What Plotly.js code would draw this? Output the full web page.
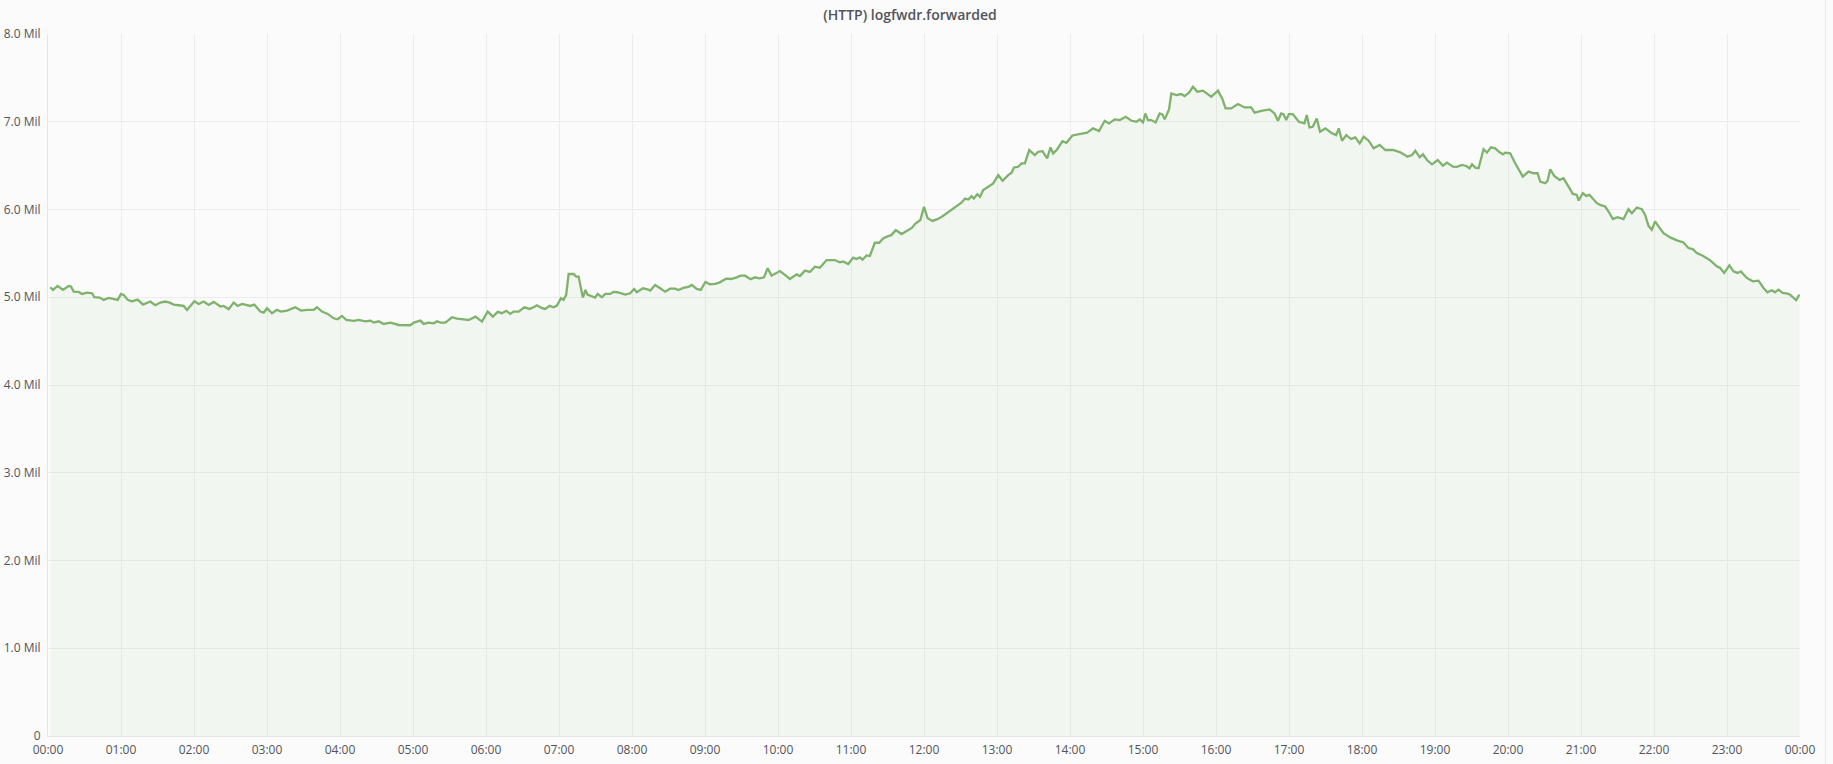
<!DOCTYPE html>
<html>
<head>
<meta charset="utf-8">
<script src="https://cdn.plot.ly/plotly-3.0.1.min.js"></script>
<style>
  html, body { margin: 0; padding: 0; background: #fbfbfb; }
  #chart { width: 1833px; height: 764px; }
  #edge { position: absolute; left: 1825px; top: 0; width: 1px; height: 764px; background: #e9e9e9; }
</style>
</head>
<body>
<div id="chart"></div>
<div id="edge"></div>
<script>
// Minutes after midnight at which each sample was read
const minutes = [
  1.9,4.1,7.9,12.3,17.0,18.9,21.1,25.2,27.9,32.1,36.2,38.1,42.5,45.8,49.9,54.0,57.3,60.0,62.2,65.5,
  69.0,73.7,78.1,84.1,88.2,92.3,96.4,100.0,103.3,107.4,111.5,114.3,120.3,123.8,128.0,132.1,136.2,141.7,144.4,148.5,
  152.6,155.9,159.5,166.3,169.6,174.5,177.3,180.0,184.1,188.2,191.5,196.5,203.3,208.0,212.9,218.4,221.1,225.2,229.9,234.8,
  238.1,241.7,245.2,251.3,255.4,260.8,265.0,267.7,271.8,275.9,281.4,288.2,295.1,297.8,300.6,306.1,308.8,312.9,317.0,319.8,
  322.5,326.6,332.1,336.2,341.7,345.8,351.3,354.8,356.7,361.4,365.7,369.6,373.1,376.7,380.0,382.7,386.8,391.5,395.8,399.1,
  401.9,406.0,408.7,412.3,415.5,418.3,421.6,423.7,425.9,427.9,432.0,434.1,436.1,439.6,441.8,443.4,447.0,449.7,451.7,455.2,
  458.0,462.1,464.8,468.1,474.4,478.5,481.8,484.0,488.9,492.8,495.0,499.0,503.2,507.2,511.3,515.4,518.1,522.2,526.3,529.1,
  533.2,536.5,540.3,544.1,548.2,551.8,557.3,561.4,566.0,569.3,572.9,577.5,581.1,584.6,588.5,591.5,594.7,601.6,605.7,609.8,
  615.3,618.0,622.1,626.2,630.3,634.4,639.9,646.7,650.8,653.6,657.7,661.8,664.5,667.3,669.5,672.7,675.5,679.6,683.1,686.4,
  690.5,693.2,696.8,701.5,706.1,710,713,717,720,723,727,731,735,739,743,747,751,753.7,756.4,759.1,
  761.0,763.8,766.0,768.7,772.8,776.9,781.0,784.6,789.2,792.0,793.9,797.4,800.2,802.9,806.5,811.1,813.8,817.4,821.2,824.0,
  826.2,829.4,833.8,837.1,842.0,846.7,850.2,854.0,859.0,863.9,868.5,872.1,876.8,880.9,885.8,890.5,894.6,897.3,900.0,901.9,
  904.1,906.8,910.4,913.7,915.9,917.8,921.4,923.3,927.4,931.5,934.2,937.8,941.1,944.6,949.3,953.4,956.1,961.6,965.1,967.9,
  972.5,978.0,983.5,988.9,991.7,997.2,1004.0,1008.1,1010.9,1013.6,1015.5,1017.7,1019.9,1023.1,1028.1,1032.7,1034.6,1036.8,1039.5,1042.8,
  1045.5,1049.9,1054.6,1058.7,1060.9,1063.6,1067.1,1071.0,1074.5,1078.1,1081.4,1085.5,1089.6,1094.5,1099.2,1105.5,1111.5,1117.5,1121.1,1123.8,
  1127.4,1130.1,1133.4,1137.5,1142.2,1146.5,1149.8,1154.8,1158.0,1162.1,1165.7,1168.4,1170.4,1173.1,1175.8,1179.9,1182.7,1186.0,1189.5,1193.1,
  1195.8,1197.7,1201.8,1205.9,1208.7,1212.2,1216.9,1221.0,1224.3,1226.5,1230.6,1232.5,1234.7,1238.0,1242.4,1245.6,1248.9,1253.3,1256.6,1258.0,
  1261.5,1264.3,1267.0,1270.3,1273.0,1276.3,1279.9,1282.6,1286.2,1290.0,1294.9,1299.0,1301.8,1305.9,1310.0,1312.7,1315.5,1318.2,1320.9,1323.7,
  1327.8,1333.3,1338.8,1344.2,1348.3,1351.9,1355.2,1360.1,1366.2,1371.6,1374.4,1377.7,1382.0,1385.3,1388.6,1391.4,1396.3,1401.2,1405.9,1410.0,
  1413.2,1416.8,1419.5,1422.3,1425.8,1429.7,1431.9,1436.8,1439.5
];

// Forwarded requests, in millions
const forwardedMil = [
  5.114,5.084,5.129,5.084,5.129,5.122,5.065,5.061,5.038,5.053,5.046,5.000,4.996,4.970,4.992,4.977,4.970,5.038,5.027,4.970,
  4.954,4.973,4.916,4.951,4.909,4.939,4.951,4.939,4.916,4.909,4.901,4.856,4.954,4.924,4.951,4.913,4.947,4.894,4.901,4.863,
  4.939,4.901,4.924,4.901,4.916,4.837,4.825,4.875,4.817,4.856,4.837,4.848,4.886,4.848,4.856,4.856,4.886,4.837,4.810,4.760,
  4.749,4.787,4.741,4.730,4.741,4.726,4.734,4.711,4.726,4.696,4.711,4.684,4.684,4.681,4.711,4.734,4.696,4.711,4.703,4.726,
  4.711,4.711,4.772,4.757,4.749,4.741,4.779,4.741,4.723,4.837,4.780,4.833,4.818,4.845,4.811,4.837,4.837,4.886,4.867,4.886,
  4.909,4.875,4.867,4.902,4.886,4.905,4.989,4.970,5.027,5.265,5.265,5.235,5.235,4.996,5.083,5.030,5.015,4.996,5.038,5.000,
  5.038,5.038,5.061,5.057,5.030,5.045,5.095,5.057,5.102,5.091,5.076,5.140,5.102,5.064,5.098,5.098,5.083,5.106,5.117,5.140,
  5.095,5.083,5.174,5.148,5.152,5.167,5.212,5.208,5.227,5.246,5.246,5.205,5.227,5.216,5.227,5.330,5.246,5.299,5.254,5.208,
  5.261,5.242,5.303,5.288,5.348,5.337,5.424,5.424,5.398,5.409,5.379,5.451,5.436,5.455,5.428,5.477,5.470,5.621,5.621,5.670,
  5.697,5.708,5.765,5.720,5.758,5.790,5.840,5.880,6.030,5.900,5.870,5.890,5.920,5.960,6.010,6.050,6.080,6.125,6.114,6.152,
  6.125,6.175,6.144,6.221,6.259,6.297,6.392,6.327,6.392,6.418,6.479,6.487,6.525,6.525,6.677,6.620,6.658,6.665,6.582,6.707,
  6.639,6.684,6.779,6.760,6.844,6.856,6.867,6.875,6.924,6.894,7.011,6.981,7.027,7.019,7.057,7.011,7.000,7.027,6.992,7.095,
  7.019,7.019,6.992,7.095,7.084,7.027,7.141,7.323,7.304,7.316,7.293,7.331,7.399,7.342,7.354,7.316,7.285,7.354,7.266,7.152,
  7.152,7.202,7.163,7.163,7.103,7.125,7.141,7.095,7.011,7.095,7.087,7.019,7.087,7.087,7.000,6.981,7.076,6.935,6.943,7.038,
  6.886,6.924,6.875,6.848,6.924,6.784,6.848,6.803,6.822,6.754,6.830,6.784,6.697,6.735,6.678,6.678,6.652,6.602,6.621,6.670,
  6.595,6.629,6.564,6.515,6.564,6.500,6.534,6.489,6.485,6.508,6.496,6.470,6.515,6.477,6.470,6.686,6.648,6.708,6.697,6.652,
  6.629,6.648,6.640,6.527,6.451,6.375,6.432,6.413,6.413,6.318,6.299,6.326,6.458,6.383,6.337,6.356,6.280,6.178,6.167,6.102,
  6.186,6.155,6.167,6.110,6.072,6.049,6.034,5.977,5.890,5.913,5.890,6.004,5.958,6.023,6.004,5.939,5.814,5.769,5.864,5.807,
  5.731,5.682,5.648,5.625,5.561,5.549,5.504,5.473,5.420,5.352,5.333,5.277,5.364,5.295,5.277,5.295,5.220,5.182,5.189,5.106,
  5.057,5.080,5.057,5.087,5.049,5.042,5.030,4.966,5.030
];

const yTickValues = [0, 1, 2, 3, 4, 5, 6, 7, 8];
const yTickLabels = ["0", "1.0 Mil", "2.0 Mil", "3.0 Mil", "4.0 Mil", "5.0 Mil", "6.0 Mil", "7.0 Mil", "8.0 Mil"];
const chartTitle = "(HTTP) logfwdr.forwarded";

function pad(n) { return (n < 10 ? "0" : "") + n; }
function minuteToStamp(m) {
  const totalSec = Math.round(m * 60);
  const day = Math.floor(totalSec / 86400);
  const rem = totalSec - day * 86400;
  const h = Math.floor(rem / 3600);
  const mi = Math.floor((rem % 3600) / 60);
  const s = rem % 60;
  return "2024-01-" + pad(1 + day) + " " + pad(h) + ":" + pad(mi) + ":" + pad(s);
}
const xStamps = minutes.map(minuteToStamp);

const fontFamily = '"Open Sans", "Noto Sans", sans-serif';

const trace = {
  type: "scatter",
  mode: "lines",
  x: xStamps,
  y: forwardedMil,
  line: { color: "#7eb26d", width: 2.3 },
  fill: "tozeroy",
  fillcolor: "rgba(126,178,109,0.07)",
  hoverinfo: "skip"
};

const layout = {
  width: 1833,
  height: 764,
  margin: { l: 48, r: 33, t: 34, b: 28 },
  paper_bgcolor: "#fbfbfb",
  plot_bgcolor: "#fbfbfb",
  showlegend: false,
  font: { family: fontFamily, size: 12, color: "#52545c" },
  title: {
    text: chartTitle,
    font: { family: fontFamily, size: 14, color: "#52545c", weight: 600 },
    xref: "container",
    x: 0.4965,
    xanchor: "center",
    yref: "container",
    y: 1 - 15 / 764,
    yanchor: "middle"
  },
  xaxis: {
    type: "date",
    range: ["2024-01-01 00:00:00", "2024-01-02 00:00:00"],
    tick0: "2024-01-01 00:00:00",
    dtick: 3600000,
    tickformat: "%H:%M",
    showgrid: true,
    gridcolor: "#ececec",
    gridwidth: 1,
    zeroline: false,
    showline: true,
    linecolor: "#e6e6e6",
    linewidth: 1,
    ticks: "",
    ticklabelstandoff: 3,
    tickfont: { family: fontFamily, size: 12, color: "#52545c" },
    fixedrange: true
  },
  yaxis: {
    range: [0, 8],
    tickmode: "array",
    tickvals: yTickValues,
    ticktext: yTickLabels,
    showgrid: true,
    gridcolor: "#ececec",
    gridwidth: 1,
    zeroline: false,
    showline: true,
    linecolor: "#e6e6e6",
    linewidth: 1,
    ticks: "",
    ticklabelstandoff: 4,
    tickfont: { family: fontFamily, size: 12, color: "#52545c" },
    fixedrange: true
  }
};

Plotly.newPlot("chart", [trace], layout, { displayModeBar: false, staticPlot: true });
</script>
</body>
</html>
